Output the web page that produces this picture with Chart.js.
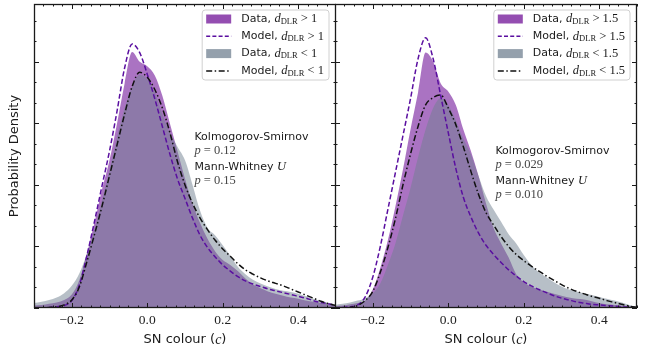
<!DOCTYPE html>
<html lang="en">
<head>
<meta charset="UTF-8">
<title>SN colour by host distance</title>
<script src="https://cdn.jsdelivr.net/npm/chart.js"></script>
<style>
  body { margin: 0; background: #fff; }
  #wrap { position: relative; width: 652px; height: 348px; }
  canvas { position: absolute; top: 0; }
  #left { left: 0; }
  #right { left: 335px; }
</style>
</head>
<body>
<div id="wrap">
  <canvas id="left" width="336" height="348"></canvas>
  <canvas id="right" width="317" height="348"></canvas>
</div>
<script>
// SN colour grid shared by every curve
const colour = [-0.30, -0.28, -0.26, -0.24, -0.22, -0.20, -0.18, -0.16, -0.14, -0.12, -0.10,
  -0.08, -0.06, -0.04, -0.02, 0.00, 0.02, 0.04, 0.06, 0.08, 0.10, 0.12, 0.14, 0.16, 0.18, 0.20,
  0.22, 0.24, 0.26, 0.28, 0.30, 0.32, 0.34, 0.36, 0.38, 0.40, 0.42, 0.44, 0.46, 0.48, 0.50];

// left panel, split at d_DLR = 1
const leftDataOuter = [0.04, 0.05, 0.07, 0.09, 0.13, 0.22, 0.45, 0.88, 1.38, 1.92, 2.4, 3.0, 3.65, 4.16,
  4.0, 3.93, 3.78, 3.45, 3.0, 2.55, 2.1, 1.7, 1.38, 1.12, 0.92, 0.78, 0.7, 0.6, 0.48, 0.38, 0.32,
  0.27, 0.23, 0.2, 0.17, 0.15, 0.12, 0.1, 0.08, 0.06, 0.04];
const leftModelOuter = [0, 0, 0.01, 0.02, 0.04, 0.12, 0.37, 0.85, 1.4, 1.98, 2.55, 3.2, 3.9, 4.29,
  4.15, 3.8, 3.4, 2.95, 2.5, 2.1, 1.78, 1.46, 1.18, 0.98, 0.83, 0.7, 0.6, 0.51, 0.44, 0.39, 0.35,
  0.31, 0.28, 0.25, 0.22, 0.19, 0.16, 0.12, 0.09, 0.07, 0.04];
const leftDataInner = [0.08, 0.1, 0.13, 0.17, 0.24, 0.36, 0.56, 0.88, 1.28, 1.75, 2.25, 2.78, 3.25, 3.6,
  3.79, 3.72, 3.5, 3.15, 2.85, 2.62, 2.4, 2.0, 1.58, 1.3, 1.18, 1.02, 0.85, 0.67, 0.55, 0.46, 0.4,
  0.35, 0.31, 0.28, 0.26, 0.23, 0.19, 0.15, 0.11, 0.08, 0.05];
const leftModelInner = [0, 0, 0.01, 0.02, 0.05, 0.13, 0.34, 0.75, 1.19, 1.65, 2.15, 2.65, 3.15, 3.6,
  3.83, 3.75, 3.55, 3.25, 2.85, 2.38, 2.0, 1.7, 1.46, 1.27, 1.1, 0.96, 0.84, 0.72, 0.62, 0.55, 0.49,
  0.44, 0.4, 0.36, 0.31, 0.26, 0.21, 0.16, 0.11, 0.07, 0.04];

// right panel, split at d_DLR = 1.5
const rightDataOuter = [0.03, 0.04, 0.06, 0.08, 0.12, 0.3, 0.65, 1.1, 1.65, 2.25, 2.9, 3.5, 4.15, 4.0,
  3.65, 3.52, 3.3, 2.9, 2.55, 2.15, 1.7, 1.3, 1.05, 0.82, 0.55, 0.42, 0.35, 0.3, 0.27, 0.23, 0.2,
  0.17, 0.15, 0.14, 0.11, 0.08, 0.06, 0.05, 0.04, 0.03, 0.02];
const rightModelOuter = [0, 0.01, 0.02, 0.05, 0.18, 0.5, 1.0, 1.6, 2.2, 2.8, 3.4, 4.05, 4.39, 4.05,
  3.45, 2.85, 2.27, 1.8, 1.48, 1.22, 1.02, 0.87, 0.74, 0.62, 0.52, 0.43, 0.36, 0.3, 0.25, 0.2, 0.16,
  0.13, 0.1, 0.08, 0.06, 0.05, 0.04, 0.03, 0.02, 0.01, 0.0];
const rightDataInner = [0.05, 0.07, 0.09, 0.12, 0.16, 0.24, 0.4, 0.7, 1.05, 1.5, 1.95, 2.45, 2.9, 3.25,
  3.41, 3.3, 3.05, 2.75, 2.5, 2.15, 1.82, 1.6, 1.4, 1.2, 1.05, 0.86, 0.7, 0.58, 0.5, 0.42, 0.35,
  0.3, 0.27, 0.24, 0.21, 0.18, 0.15, 0.12, 0.09, 0.05, 0.02];
const rightModelInner = [0, 0, 0.01, 0.04, 0.12, 0.27, 0.58, 0.98, 1.45, 2.0, 2.5, 2.95, 3.3, 3.42,
  3.46, 3.25, 2.98, 2.62, 2.22, 1.85, 1.55, 1.35, 1.16, 1.0, 0.87, 0.77, 0.68, 0.6, 0.52, 0.45, 0.38,
  0.32, 0.27, 0.23, 0.19, 0.16, 0.12, 0.09, 0.06, 0.03, 0.01];

const thresholds = ['1', '1.5'];
const ksPValues = ['0.12', '0.029'];
const mwPValues = ['0.15', '0.010'];

const xTickValues = [-0.2, 0.0, 0.2, 0.4];
const xTickLabels = ['\u22120.2', '0.0', '0.2', '0.4'];
const yMax = 4.94;

const SANS = '"DejaVu Sans", sans-serif';
const SERIF = '"Liberation Serif", serif';
const purpleFill = 'rgba(142, 68, 173, 0.75)';
const greyFill = 'rgba(112, 128, 144, 0.5)';
const purpleLegend = 'rgba(142, 68, 173, 0.95)';
const greyLegend = 'rgba(112, 128, 144, 0.75)';
const dashedColour = '#5a0fa0';
const dashPattern = [5, 2.5];
const dashDotPattern = [6, 2.5, 1.5, 2.5];

function pts(values) {
  return colour.map((c, i) => ({ x: c, y: values[i] }));
}

function richWidth(ctx, parts) {
  let w = 0;
  parts.forEach(p => { ctx.font = p.font; w += ctx.measureText(p.t).width; });
  return w;
}

function rich(ctx, parts, x, y) {
  let cx = x;
  parts.forEach(p => {
    ctx.font = p.font;
    ctx.fillText(p.t, cx, y + (p.dy || 0));
    cx += ctx.measureText(p.t).width;
  });
  return cx - x;
}

function dlrParts(lead, op, thr) {
  return [
    { t: lead, font: '11px ' + SANS },
    { t: 'd', font: 'italic 12.5px ' + SERIF },
    { t: 'DLR', font: '8.5px ' + SERIF, dy: 2.5 },
    { t: ' ' + op + ' ' + thr, font: '12.5px ' + SERIF }
  ];
}

function roundBox(ctx, x, y, w, h, r) {
  ctx.beginPath();
  ctx.moveTo(x + r, y);
  ctx.lineTo(x + w - r, y);
  ctx.arcTo(x + w, y, x + w, y + r, r);
  ctx.lineTo(x + w, y + h - r);
  ctx.arcTo(x + w, y + h, x + w - r, y + h, r);
  ctx.lineTo(x + r, y + h);
  ctx.arcTo(x, y + h, x, y + h - r, r);
  ctx.lineTo(x, y + r);
  ctx.arcTo(x, y, x + r, y, r);
  ctx.closePath();
}

const panelDecor = {
  id: 'panelDecor',
  afterDatasetsDraw(chart) {
    const { ctx, chartArea: a, scales: { x, y } } = chart;
    ctx.save();
    ctx.strokeStyle = '#1a1a1a';
    ctx.lineWidth = 1;
    ctx.beginPath();
    // inward ticks, all four sides
    for (let k = 0; k <= 32; k++) {
      const v = -0.3 + k * 0.025;
      const px = Math.round(x.getPixelForValue(v)) + 0.5;
      const major = xTickValues.some(t => Math.abs(t - v) < 1e-6);
      const len = major ? 5 : 2.5;
      ctx.moveTo(px, a.bottom); ctx.lineTo(px, a.bottom - len);
      ctx.moveTo(px, a.top); ctx.lineTo(px, a.top + len);
    }
    for (let k = 0; k / 3 < yMax; k++) {
      const py = Math.round(y.getPixelForValue(k / 3)) + 0.5;
      const len = k % 3 === 0 ? 5 : 2.5;
      ctx.moveTo(a.left, py); ctx.lineTo(a.left + len, py);
      ctx.moveTo(a.right, py); ctx.lineTo(a.right - len, py);
    }
    ctx.stroke();
    ctx.lineWidth = 1.3;
    ctx.strokeRect(a.left + 0.5, a.top + 0.5, a.right - a.left - 1, a.bottom - a.top - 1);
    ctx.restore();
  },
  afterDraw(chart, args, opts) {
    const { ctx, chartArea: a, scales: { x } } = chart;
    const thr = opts.threshold;
    ctx.save();
    ctx.textBaseline = 'middle';
    ctx.textAlign = 'left';

    // x tick labels, placed by the x scale
    ctx.fillStyle = '#222';
    ctx.font = '13.5px ' + SERIF;
    ctx.textAlign = 'center';
    xTickValues.forEach((v, i) => {
      ctx.fillText(xTickLabels[i], x.getPixelForValue(v), a.bottom + 12);
    });
    ctx.textAlign = 'left';

    // legend
    const rows = [
      { kind: 'patch', color: purpleLegend, parts: dlrParts('Data, ', '>', thr) },
      { kind: 'line', color: dashedColour, dash: [4, 2.2], parts: dlrParts('Model, ', '>', thr) },
      { kind: 'patch', color: greyLegend, parts: dlrParts('Data, ', '<', thr) },
      { kind: 'line', color: '#111', dash: [6, 2.5, 1.5, 2.5], parts: dlrParts('Model, ', '<', thr) }
    ];
    const textW = Math.max(...rows.map(r => richWidth(ctx, r.parts)));
    const w = 4 + 25 + 10 + textW + 5;
    const right = a.right - 7;
    const left = right - w;
    const top = a.top + 6;
    roundBox(ctx, left, top, w, 70, 3);
    ctx.fillStyle = 'rgba(255,255,255,0.85)';
    ctx.fill();
    ctx.strokeStyle = '#d0d0d0';
    ctx.lineWidth = 1;
    ctx.stroke();
    rows.forEach((r, i) => {
      const cy = top + 9 + i * 17.3;
      const sx = left + 4;
      if (r.kind === 'patch') {
        ctx.fillStyle = r.color;
        ctx.fillRect(sx, cy - 4.5, 25, 9);
      } else {
        ctx.strokeStyle = r.color;
        ctx.lineWidth = 1.5;
        ctx.setLineDash(r.dash);
        ctx.beginPath();
        ctx.moveTo(sx, cy);
        ctx.lineTo(sx + 25, cy);
        ctx.stroke();
        ctx.setLineDash([]);
      }
      ctx.fillStyle = '#1a1a1a';
      rich(ctx, r.parts, sx + 35, cy);
    });

    // test statistics
    const ax = x.getPixelForValue(0.125);
    const ay = a.top + opts.statsTop;
    ctx.fillStyle = '#1a1a1a';
    rich(ctx, [{ t: 'Kolmogorov-Smirnov', font: '11px ' + SANS }], ax, ay);
    rich(ctx, [{ t: 'Mann-Whitney ', font: '11px ' + SANS }, { t: 'U', font: 'italic 12.5px ' + SERIF }], ax, ay + 30);
    ctx.fillStyle = '#444';
    rich(ctx, [{ t: 'p', font: 'italic 12.5px ' + SERIF }, { t: ' = ' + opts.ks, font: '12.5px ' + SERIF }], ax, ay + 14);
    rich(ctx, [{ t: 'p', font: 'italic 12.5px ' + SERIF }, { t: ' = ' + opts.mw, font: '12.5px ' + SERIF }], ax, ay + 44);

    // x title
    ctx.fillStyle = '#1a1a1a';
    const tParts = [
      { t: 'SN colour (', font: '13px ' + SANS },
      { t: 'c', font: 'italic 14px ' + SERIF },
      { t: ')', font: '13px ' + SANS }
    ];
    const tw = richWidth(ctx, tParts);
    rich(ctx, tParts, (a.left + a.right) / 2 - tw / 2, 340);

    // y title
    if (opts.yTitle) {
      ctx.translate(15, (a.top + a.bottom) / 2);
      ctx.rotate(-Math.PI / 2);
      ctx.textAlign = 'center';
      ctx.font = '13px ' + SANS;
      ctx.fillText('Probability Density', 0, 0);
    }
    ctx.restore();
  }
};

function makePanel(id, dataOuter, modelOuter, dataInner, modelInner, pad, decor) {
  const ctx = document.getElementById(id).getContext('2d');
  return new Chart(ctx, {
    type: 'line',
    data: {
      datasets: [
        { label: 'Data outer', data: pts(dataOuter), fill: 'origin', backgroundColor: purpleFill,
          borderWidth: 0, pointRadius: 0, cubicInterpolationMode: 'monotone', order: 4 },
        { label: 'Data inner', data: pts(dataInner), fill: 'origin', backgroundColor: greyFill,
          borderWidth: 0, pointRadius: 0, cubicInterpolationMode: 'monotone', order: 3 },
        { label: 'Model outer', data: pts(modelOuter), fill: false, borderColor: dashedColour,
          borderWidth: 1.5, borderDash: dashPattern, pointRadius: 0, cubicInterpolationMode: 'monotone', order: 2 },
        { label: 'Model inner', data: pts(modelInner), fill: false, borderColor: '#111',
          borderWidth: 1.5, borderDash: dashDotPattern, pointRadius: 0, cubicInterpolationMode: 'monotone', order: 1 }
      ]
    },
    options: {
      responsive: false,
      animation: false,
      events: [],
      layout: { padding: pad },
      plugins: {
        legend: { display: false },
        tooltip: { enabled: false },
        panelDecor: decor
      },
      scales: {
        x: {
          type: 'linear',
          min: -0.3,
          max: 0.5,
          grid: { display: false, drawTicks: false },
          border: { display: false },
          afterBuildTicks: s => { s.ticks = xTickValues.map(v => ({ value: v })); },
          afterFit: s => { s.height = 40; },
          ticks: { display: false }
        },
        y: { display: false, min: 0, max: yMax }
      }
    },
    plugins: [panelDecor]
  });
}

makePanel('left', leftDataOuter, leftModelOuter, leftDataInner, leftModelInner,
  { left: 34, right: 0, top: 4, bottom: 0 },
  { threshold: thresholds[0], ks: ksPValues[0], mw: mwPValues[0], statsTop: 133, yTitle: true });
makePanel('right', rightDataOuter, rightModelOuter, rightDataInner, rightModelInner,
  { left: 0, right: 15, top: 4, bottom: 0 },
  { threshold: thresholds[1], ks: ksPValues[1], mw: mwPValues[1], statsTop: 147, yTitle: false });
</script>
</body>
</html>
